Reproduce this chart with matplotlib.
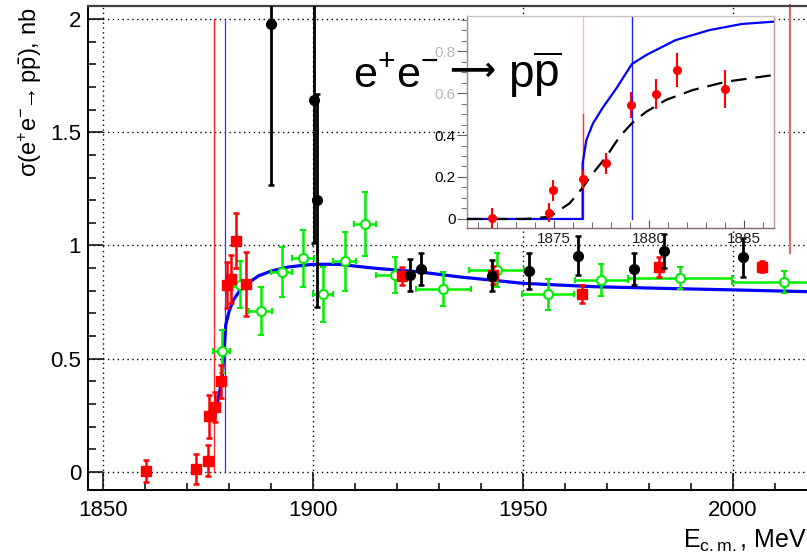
import matplotlib
matplotlib.use("Agg")
import matplotlib.pyplot as plt
from matplotlib.ticker import MultipleLocator, FixedLocator

plt.rcParams['font.family'] = ['Liberation Sans', 'DejaVu Sans']
plt.rcParams['mathtext.fontset'] = 'custom'
plt.rcParams['mathtext.rm'] = 'Liberation Sans'
plt.rcParams['mathtext.it'] = 'Liberation Sans'

# ---------------- data (main panel) ----------------
black_E = [1889.9, 1900.1, 1900.9, 1923.1, 1925.6, 1942.5, 1951.3, 1963.0, 1976.3, 1983.6, 2002.3]
black_s = [1.978, 1.642, 1.20, 0.87, 0.896, 0.867, 0.887, 0.955, 0.896, 0.976, 0.948]
black_err = [0.71, 0.63, 0.47, 0.07, 0.07, 0.07, 0.08, 0.085, 0.07, 0.075, 0.086]

red_E = [1860.2, 1872.1, 1874.9, 1875.2, 1876.7, 1878.0, 1879.4, 1880.5, 1881.7, 1884.1,
         1921.1, 1942.9, 1964.1, 1982.4, 2006.8]
red_s = [0.006, 0.013, 0.05, 0.247, 0.288, 0.40, 0.826, 0.853, 1.022, 0.83,
         0.865, 0.87, 0.784, 0.906, 0.906]
red_err = [0.048, 0.066, 0.068, 0.095, 0.066, 0.073, 0.1, 0.107, 0.12, 0.14,
           0.04, 0.04, 0.04, 0.045, 0.025]

green_E = [1878.2, 1882.6, 1887.5, 1892.5, 1897.5, 1902.3, 1907.5, 1912.4, 1919.5,
           1931.0, 1943.7, 1956.0, 1968.6, 1987.4, 2012.2]
green_s = [0.534, 0.826, 0.711, 0.884, 0.943, 0.784, 0.93, 1.095, 0.87,
           0.808, 0.892, 0.784, 0.848, 0.858, 0.84]
green_xerr = [2.0, 1.5, 2.8, 2.5, 2.6, 2.4, 2.8, 2.6, 4.5, 6.5, 6.5, 6.2, 6.3, 12.4, 12.4]
green_yerr = [0.095, 0.104, 0.107, 0.11, 0.125, 0.12, 0.13, 0.14, 0.08,
              0.077, 0.074, 0.07, 0.07, 0.048, 0.048]

fit_E = [1876.6, 1877.5, 1878.3, 1878.8, 1879.2, 1880.0, 1881.0, 1882.5, 1884.2, 1887.0,
         1890.0, 1894.0, 1900.0, 1906.0, 1915.0, 1925.0, 1935.0, 1950.0, 1967.0, 1985.0,
         2000.0, 2018.0, 2030.0]
fit_s = [0.244, 0.333, 0.406, 0.53, 0.65, 0.71, 0.759, 0.80, 0.83, 0.866,
         0.887, 0.905, 0.917, 0.917, 0.899, 0.884, 0.861, 0.833, 0.818, 0.81,
         0.804, 0.796, 0.792]

thr_p = 1876.5      # p pbar threshold
thr_n = 1879.1      # n nbar threshold
far_red_E = 2013.6
far_red_lo = 0.967

x_ticks = [1850, 1900, 1950, 2000]
y_ticks = [0, 0.5, 1, 1.5, 2]

# ---------------- data (inset) ----------------
in_E = [1871.73, 1874.73, 1874.94, 1876.5, 1877.75, 1879.07, 1880.38, 1881.49, 1884.02]
in_s = [0.003, 0.03, 0.137, 0.19, 0.265, 0.543, 0.595, 0.71, 0.62]
in_err = [0.05, 0.045, 0.05, 0.045, 0.05, 0.063, 0.07, 0.08, 0.09]

in_blue_E = [1870.4, 1876.5, 1876.5, 1876.7, 1877.05, 1877.6, 1878.28, 1879.1, 1879.86,
             1881.4, 1883.2, 1884.9, 1886.6]
in_blue_s = [0, 0, 0.265, 0.376, 0.456, 0.535, 0.622, 0.738, 0.781, 0.852, 0.9, 0.929, 0.94]

in_dash_E = [1870.4, 1873.5, 1874.77, 1875.82, 1876.47, 1877.05, 1877.75, 1878.45, 1879.1,
             1879.86, 1880.9, 1882.3, 1884.07, 1886.6]
in_dash_s = [0, 0, 0.011, 0.075, 0.146, 0.218, 0.297, 0.392, 0.456, 0.511, 0.567, 0.614,
             0.654, 0.686]

in_x_ticks = [1875, 1880, 1885]
in_y_ticks = [0, 0.2, 0.4, 0.6, 0.8]
in_y_labels = ['0', '0.2', '0.4', '0.6', '0.8']

# ---------------- figure ----------------
W, H = 807, 556
fig = plt.figure(figsize=(W / 100, H / 100), dpi=100)

def px(x0, y0, x1, y1):
    return [x0 / W, 1 - y1 / H, (x1 - x0) / W, (y1 - y0) / H]

xmin, xmax = 1846.4, 2030.0
ax = fig.add_axes(px(88, 6, 88 + (xmax - xmin) * 4.2, 490))
ax.set_xlim(xmin, xmax)
ax.set_ylim(-0.0795, 2.0574)

ax.xaxis.set_major_locator(FixedLocator(x_ticks))
ax.xaxis.set_minor_locator(MultipleLocator(10))
ax.yaxis.set_major_locator(FixedLocator(y_ticks))
ax.yaxis.set_minor_locator(MultipleLocator(0.1))
ax.set_yticklabels(['0', '0.5', '1', '1.5', '2'])
ax.tick_params(which='both', direction='in', width=1.1, labelsize=16, color='black')
ax.tick_params(axis='x', which='major', length=12, pad=7)
ax.tick_params(axis='x', which='minor', length=5)
ax.tick_params(axis='y', which='major', length=11, pad=5)
ax.tick_params(axis='y', which='minor', length=5.5)
ax.grid(True, which='major', color='black', linestyle=(0, (1, 2.5)), linewidth=1.0)
for s in ['left', 'bottom']:
    ax.spines[s].set_linewidth(1.4)
ax.spines['top'].set_color('#404040')
ax.spines['top'].set_linewidth(1.6)
ax.spines['right'].set_visible(False)

# threshold lines
ax.plot([thr_p, thr_p], [0, 2.0], color='#ff2020', lw=0.9, zorder=2)
ax.plot([thr_n, thr_n], [0, 2.0], color='#3030ff', lw=0.9, zorder=2)
ax.plot([far_red_E, far_red_E], [far_red_lo, 2.06], color='#d07070', lw=1.6, zorder=2,
        clip_on=False)

# fit curve
ax.plot(fit_E, fit_s, color='#0000ff', lw=2.3, zorder=4)

# green open circles
ax.errorbar(green_E, green_s, xerr=green_xerr, yerr=green_yerr, fmt='o', color='#00ee00',
            ms=6.5, mfc='white', mec='#00ee00', mew=1.5, elinewidth=1.8, capsize=2.2,
            capthick=1.8, zorder=5)
# red squares
ax.errorbar(red_E, red_s, yerr=red_err, fmt='s', color='#ff0000', ms=6.5, mec='#ff0000',
            elinewidth=1.8, capsize=2.2, capthick=1.8, zorder=6)
# black circles
ax.errorbar(black_E, black_s, yerr=black_err, fmt='o', color='black', ms=7, elinewidth=2.0,
            capsize=2.2, capthick=1.8, zorder=7)

# axis labels
fig.text(30 / W, 1 - 8 / H,
         r'$\sigma(\mathregular{e^{+}e^{-}\!\!\rightarrow p\bar{p}}$), nb',
         rotation=90, ha='center', va='top', fontsize=17)
fig.text(683 / W, 1 - 548 / H, r'E$_{\mathregular{c.m.}}$, MeV', ha='left',
         va='baseline', fontsize=18)

# ---------------- inset ----------------
ix = fig.add_axes(px(467, 16, 774, 228))
ix.set_xlim(1870.4, 1886.6)
ix.set_ylim(-0.043, 0.967)
ix.set_facecolor('white')
ix.xaxis.set_major_locator(FixedLocator(in_x_ticks))
ix.xaxis.set_minor_locator(MultipleLocator(1))
ix.yaxis.set_major_locator(FixedLocator(in_y_ticks))
ix.yaxis.set_minor_locator(MultipleLocator(0.05))
ix.set_yticklabels(in_y_labels)
ix.tick_params(axis='x', which='both', direction='in', labelsize=11, pad=3,
               color='#505050', labelcolor='#202020')
ix.tick_params(axis='x', which='major', length=6)
ix.tick_params(axis='x', which='minor', length=4)
ix.tick_params(axis='y', which='both', direction='out', labelsize=11, pad=1,
               color='#606060')
ix.tick_params(axis='y', which='major', length=7)
ix.tick_params(axis='y', which='minor', length=4)
for lab, v in zip(ix.get_yticklabels(), in_y_ticks):
    lab.set_color('#b8b8b8' if v > 0.5 else 'black')
for s, c in [('left', '#a08888'), ('bottom', '#806868'), ('right', '#c09898'),
             ('top', '#c8c0c0')]:
    ix.spines[s].set_color(c)
    ix.spines[s].set_linewidth(1.0)

ix.plot([thr_p, thr_p], [0, 1.0], color='#ffb8b8', lw=1.0, zorder=2)
ix.plot([thr_p, thr_p], [0, 0.5], color='#ff3030', lw=1.0, zorder=2)
ix.plot([thr_n, thr_n], [0, 1.0], color='#2020ff', lw=1.0, zorder=2)
ix.plot(in_blue_E, in_blue_s, color='#0000ff', lw=1.6, zorder=3)
ix.plot(in_dash_E, in_dash_s, color='black', lw=1.6, dashes=(7, 4), zorder=3)
ix.errorbar(in_E, in_s, yerr=in_err, fmt='o', color='#ff0000', ms=5.5, elinewidth=1.5,
            capsize=0, zorder=4)

# big reaction label: e+e-  ->  p pbar
fig.text(353 / W, 1 - 88 / H, r'$\mathregular{e^{+}e^{-}}$',
         ha='left', va='baseline', fontsize=31, zorder=10)
fig.text(472 / W, 1 - 71 / H, '\u27f6', family='DejaVu Sans', fontweight='bold',
         ha='center', va='center', fontsize=23, zorder=10)
fig.text(508 / W, 1 - 88 / H, r'$\mathregular{p\overline{p}}$',
         ha='left', va='baseline', fontsize=33, zorder=10)

fig.savefig('out.png', dpi=100)
